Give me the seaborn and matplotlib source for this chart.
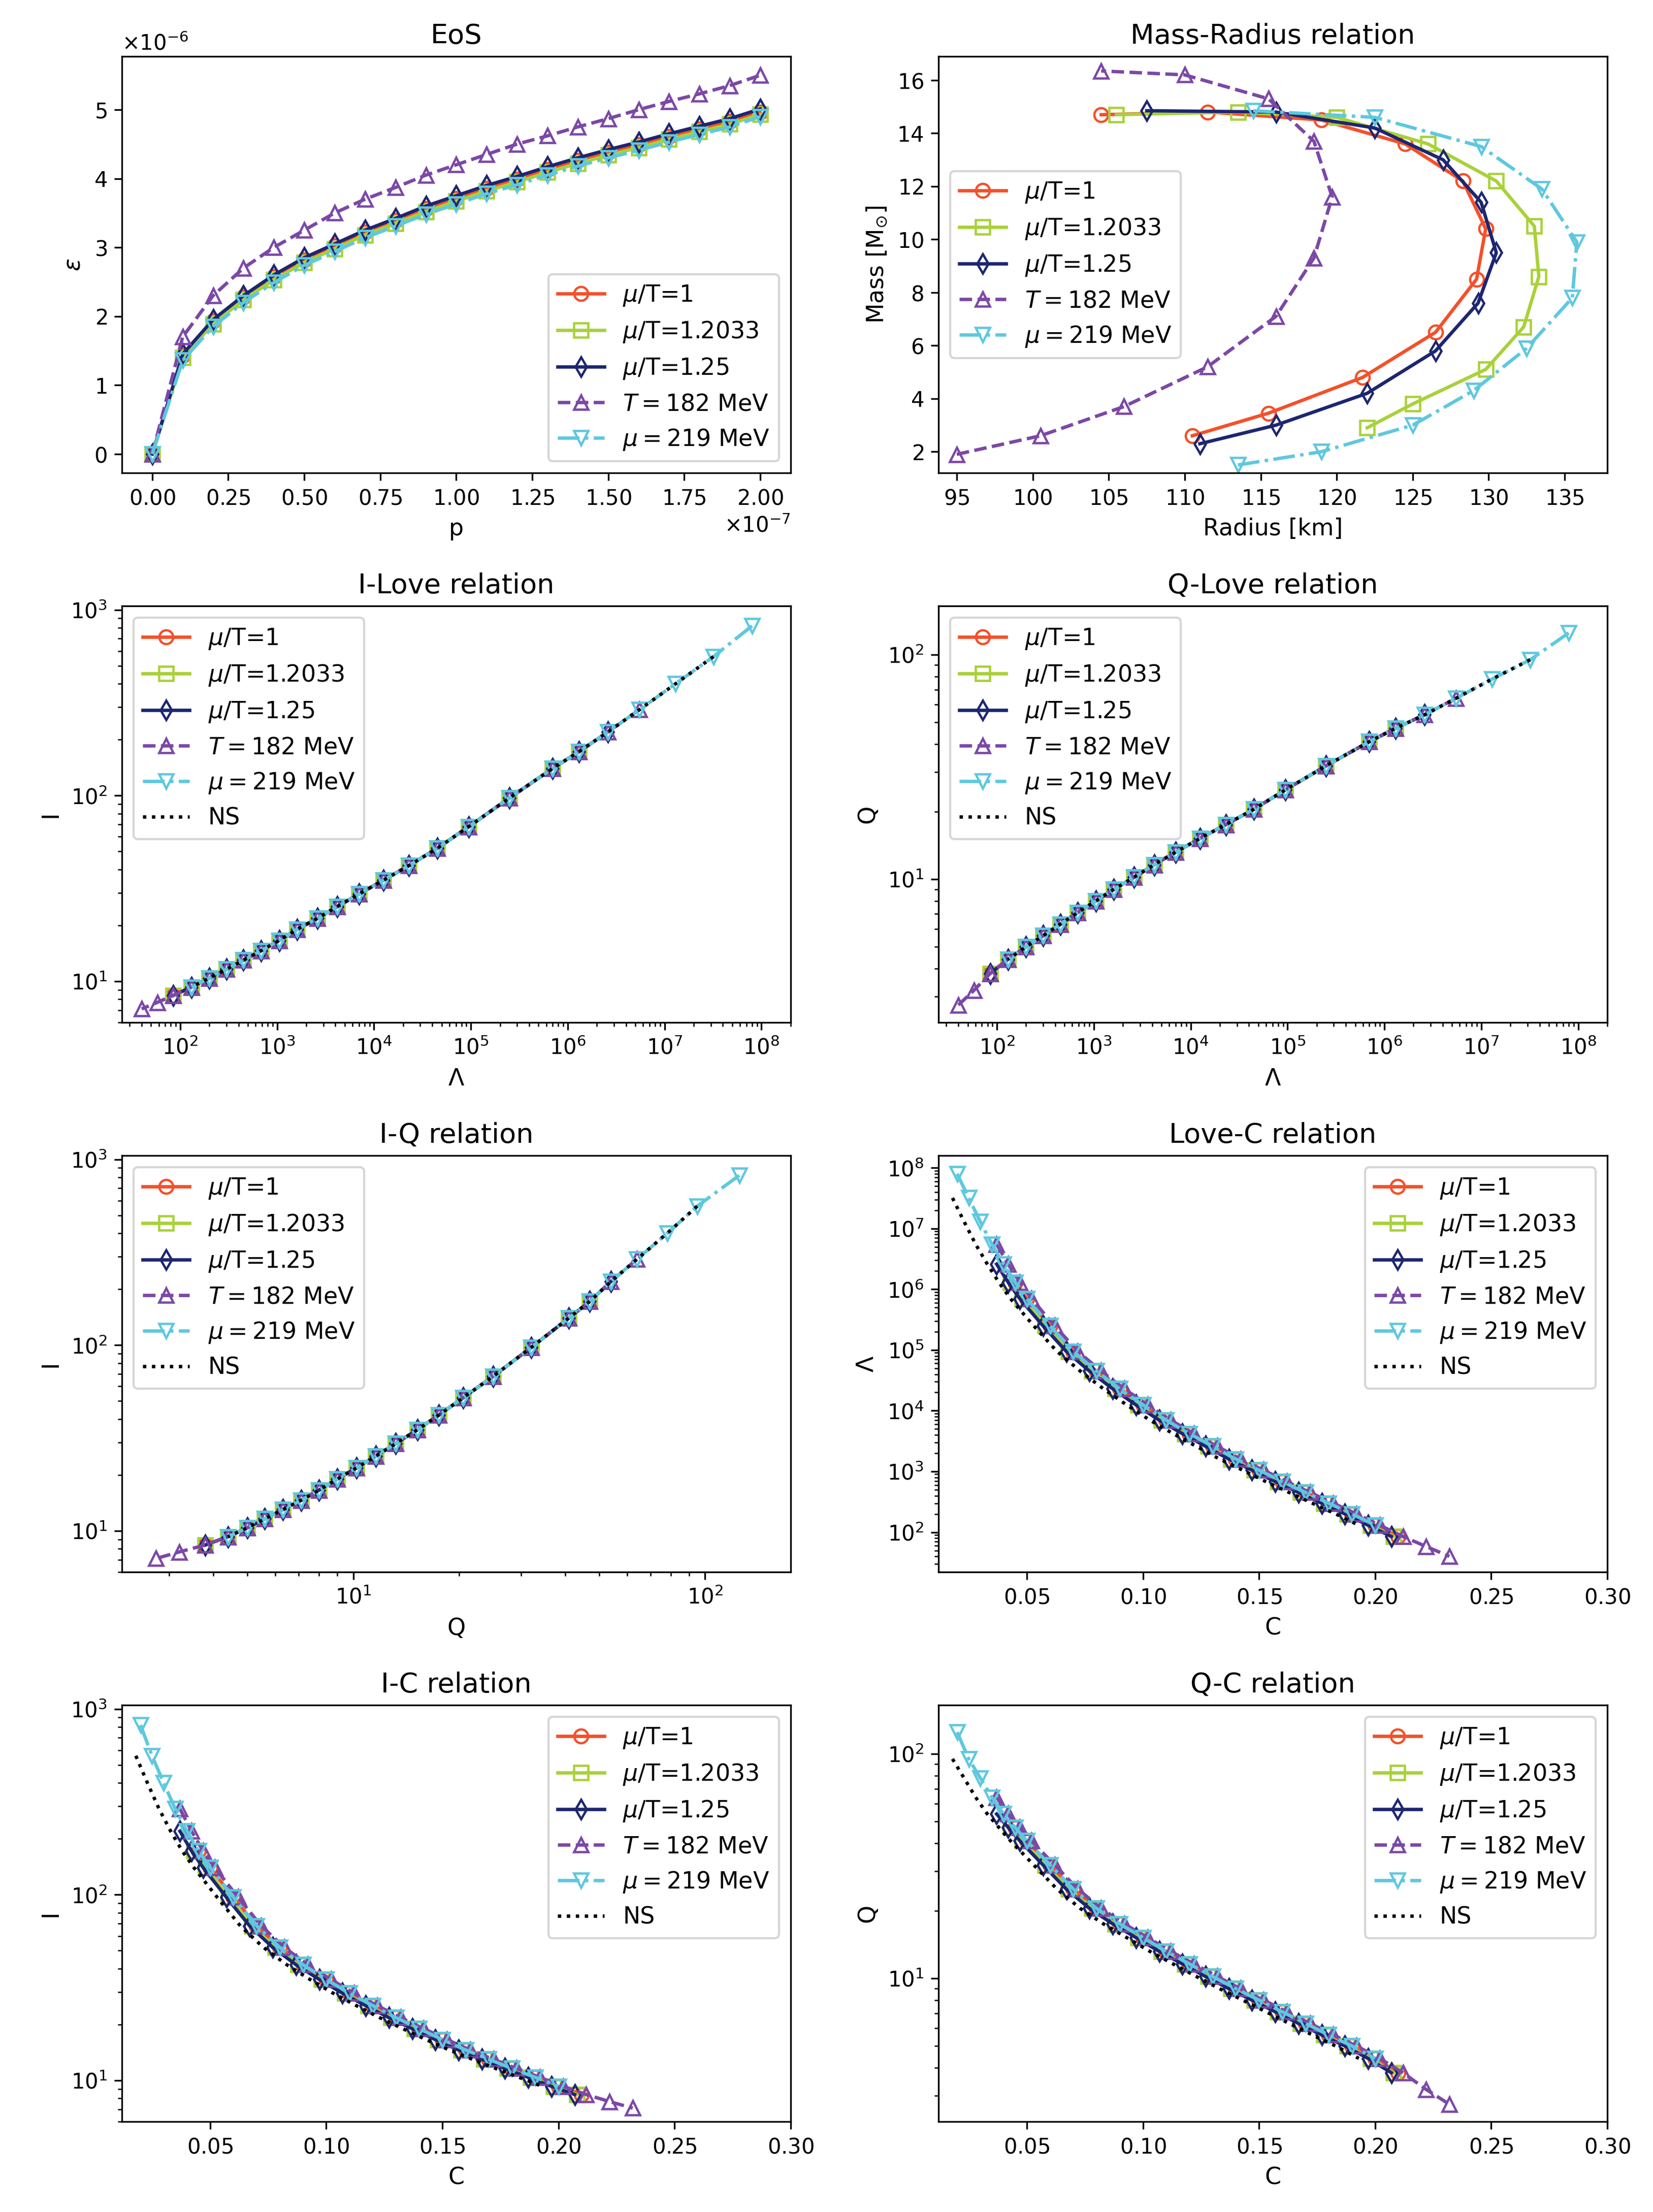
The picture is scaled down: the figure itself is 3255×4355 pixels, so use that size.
import numpy as np
import pandas as pd
import seaborn as sns
import matplotlib
matplotlib.use("Agg")
import matplotlib.pyplot as plt

plt.rcParams["axes.formatter.use_mathtext"] = True

# ---------------- data ----------------
labels = [r"$\mu$/T=1", r"$\mu$/T=1.2033", r"$\mu$/T=1.25", r"$T=182$ MeV", r"$\mu=219$ MeV", "NS"]
colors = ["#f4502a", "#a9d13a", "#1d2670", "#7b48a6", "#5ec8de", "black"]
styles = ["-", "-", "-", "--", "-.", ":"]
markers = ["o", "s", "d", "^", "v", None]

# EoS (p in 1e-7, eps in 1e-6)
eos_p = [0, 0.1, 0.2, 0.3, 0.4, 0.5, 0.6, 0.7, 0.8, 0.9, 1.0, 1.1, 1.2, 1.3, 1.4, 1.5, 1.6, 1.7, 1.8, 1.9, 2.0]
eos_red = [0, 1.43, 1.93, 2.28, 2.57, 2.82, 3.02, 3.22, 3.39, 3.56, 3.71, 3.86, 3.99, 4.13, 4.26, 4.38, 4.49, 4.61, 4.72, 4.83, 4.96]
eos_green = [0, 1.40, 1.89, 2.24, 2.53, 2.78, 2.98, 3.18, 3.35, 3.52, 3.67, 3.82, 3.95, 4.09, 4.22, 4.34, 4.45, 4.57, 4.68, 4.79, 4.93]
eos_navy = [0, 1.45, 1.95, 2.30, 2.60, 2.85, 3.05, 3.25, 3.42, 3.60, 3.75, 3.90, 4.03, 4.17, 4.30, 4.42, 4.53, 4.65, 4.76, 4.87, 5.01]
eos_purple = [0, 1.70, 2.30, 2.70, 3.00, 3.25, 3.50, 3.70, 3.87, 4.05, 4.20, 4.35, 4.50, 4.62, 4.75, 4.87, 5.00, 5.12, 5.23, 5.35, 5.50]
eos_cyan = [0, 1.36, 1.85, 2.20, 2.49, 2.74, 2.94, 3.14, 3.31, 3.48, 3.63, 3.78, 3.91, 4.05, 4.18, 4.30, 4.41, 4.53, 4.64, 4.75, 4.90]

# Mass-radius
mr_R_red = [110.5, 115.5, 121.7, 126.5, 129.2, 129.8, 128.3, 124.5, 119.0, 111.5, 104.5]
mr_M_red = [2.6, 3.45, 4.8, 6.5, 8.5, 10.4, 12.2, 13.6, 14.5, 14.8, 14.7]
mr_R_green = [122.0, 125.0, 129.8, 132.3, 133.3, 133.0, 130.5, 126.0, 120.0, 113.5, 105.5]
mr_M_green = [2.9, 3.8, 5.1, 6.7, 8.6, 10.5, 12.2, 13.6, 14.6, 14.8, 14.7]
mr_R_navy = [111.0, 116.0, 122.0, 126.5, 129.3, 130.5, 129.5, 127.0, 122.5, 116.0, 107.5]
mr_M_navy = [2.3, 3.0, 4.2, 5.8, 7.6, 9.5, 11.4, 13.0, 14.2, 14.8, 14.85]
mr_R_purple = [95.0, 100.5, 106.0, 111.5, 116.0, 118.5, 119.7, 118.5, 115.5, 110.0, 104.5]
mr_M_purple = [1.9, 2.6, 3.7, 5.2, 7.1, 9.3, 11.6, 13.7, 15.3, 16.2, 16.35]
mr_R_cyan = [113.5, 119.0, 125.0, 129.0, 132.5, 135.5, 135.8, 133.5, 129.5, 122.5, 114.5]
mr_M_cyan = [1.5, 2.0, 3.0, 4.3, 5.9, 7.8, 9.9, 11.9, 13.5, 14.6, 14.85]

# universal relations: compactness grid with Love number, I and Q
C_grid = [0.02, 0.025, 0.03, 0.035, 0.04, 0.045, 0.05, 0.06, 0.07, 0.08, 0.09, 0.10, 0.11,
          0.12, 0.13, 0.14, 0.15, 0.16, 0.17, 0.18, 0.19, 0.20, 0.21, 0.22, 0.23]
Lam_grid = [8e7, 3.2e7, 1.3e7, 5.5e6, 2.6e6, 1.3e6, 7e5, 2.5e5, 9.5e4, 4.5e4, 2.3e4, 1.25e4, 7e3,
            4.2e3, 2.6e3, 1.6e3, 1.05e3, 680, 450, 300, 200, 130, 85, 58, 40]
I_grid = [820, 560, 400, 290, 220, 172, 140, 97, 68, 52, 42, 35, 29.5,
          25.3, 21.8, 19.0, 16.6, 14.6, 13.0, 11.6, 10.4, 9.3, 8.4, 7.7, 7.1]
Q_grid = [125, 95, 78, 64, 54, 47, 41, 32, 25, 20.5, 17.5, 15.2, 13.2,
          11.6, 10.2, 9.0, 8.0, 7.1, 6.3, 5.6, 5.0, 4.4, 3.8, 3.2, 2.75]
# per-series slice of the grid and compactness offset
ur_start = [5, 5, 4, 3, 0, 1]
ur_stop = [23, 23, 23, 25, 22, 22]
ur_dC = [0.0, -0.002, -0.003, 0.002, 0.0, -0.007]

eos_vals = [eos_red, eos_green, eos_navy, eos_purple, eos_cyan]
mr_vals = [(mr_R_red, mr_M_red), (mr_R_green, mr_M_green), (mr_R_navy, mr_M_navy),
           (mr_R_purple, mr_M_purple), (mr_R_cyan, mr_M_cyan)]

# ---------------- plotting ----------------
fig, axes = plt.subplots(4, 2, figsize=(10.853, 14.517), dpi=300)

def draw(ax, x, y, i, every=1):
    kw = dict(ax=ax, x=np.asarray(x, float), y=np.asarray(y, float), sort=False, estimator=None,
              color=colors[i], linestyle=styles[i], label=labels[i], lw=1.6)
    if markers[i]:
        kw.update(marker=markers[i], markerfacecolor="none", markeredgecolor=colors[i],
                  markersize=6.5, markeredgewidth=1.1, markevery=every)
    sns.lineplot(**kw)

# EoS
ax = axes[0, 0]
for i in range(5):
    draw(ax, np.array(eos_p) * 1e-7, np.array(eos_vals[i]) * 1e-6, i)
ax.set_title("EoS", fontsize=13)
ax.set_xlabel("p", fontsize=11)
ax.set_ylabel(r"$\epsilon$", fontsize=11)
ax.legend(loc="lower right", fontsize=11)

# MR
ax = axes[0, 1]
for i in range(5):
    draw(ax, mr_vals[i][0], mr_vals[i][1], i)
ax.set_title("Mass-Radius relation", fontsize=13)
ax.set_xlabel("Radius [km]", fontsize=11)
ax.set_ylabel(r"Mass [M$_{\odot}$]", fontsize=11)
ax.set_xlim(93.8, 137.8)
ax.set_ylim(1.2, 16.9)
ax.legend(loc="center left", fontsize=11)

panels = [
    (axes[1, 0], "I-Love relation", "L", "I", r"$\Lambda$", "I", "upper left"),
    (axes[1, 1], "Q-Love relation", "L", "Q", r"$\Lambda$", "Q", "upper left"),
    (axes[2, 0], "I-Q relation", "Q", "I", "Q", "I", "upper left"),
    (axes[2, 1], "Love-C relation", "C", "L", "C", r"$\Lambda$", "upper right"),
    (axes[3, 0], "I-C relation", "C", "I", "C", "I", "upper right"),
    (axes[3, 1], "Q-C relation", "C", "Q", "C", "Q", "upper right"),
]
for ax, title, xk, yk, xl, yl, loc in panels:
    for i in range(6):
        s, e = ur_start[i], ur_stop[i]
        d = {"C": np.array(C_grid[s:e]) + ur_dC[i], "L": Lam_grid[s:e], "I": I_grid[s:e], "Q": Q_grid[s:e]}
        draw(ax, d[xk], d[yk], i)
    ax.set_title(title, fontsize=13)
    ax.set_xlabel(xl, fontsize=11)
    ax.set_ylabel(yl, fontsize=11)
    ax.set_yscale("log")
    if xk != "C":
        ax.set_xscale("log")
    else:
        ax.set_xlim(0.012, 0.30)
    ax.legend(loc=loc, fontsize=11)

axes[1, 0].set_xlim(25, 2e8); axes[1, 0].set_ylim(6, 1050)
axes[1, 1].set_xlim(25, 2e8); axes[1, 1].set_ylim(2.3, 165)
axes[2, 0].set_xlim(2.2, 175); axes[2, 0].set_ylim(6, 1050)
axes[2, 1].set_ylim(22, 1.6e8)
axes[3, 0].set_ylim(6, 1050)
axes[3, 1].set_ylim(2.3, 165)

fig.tight_layout(h_pad=1.5, w_pad=2.0, rect=(0.01, 0, 1, 1))
fig.savefig("out.png", dpi=300)
